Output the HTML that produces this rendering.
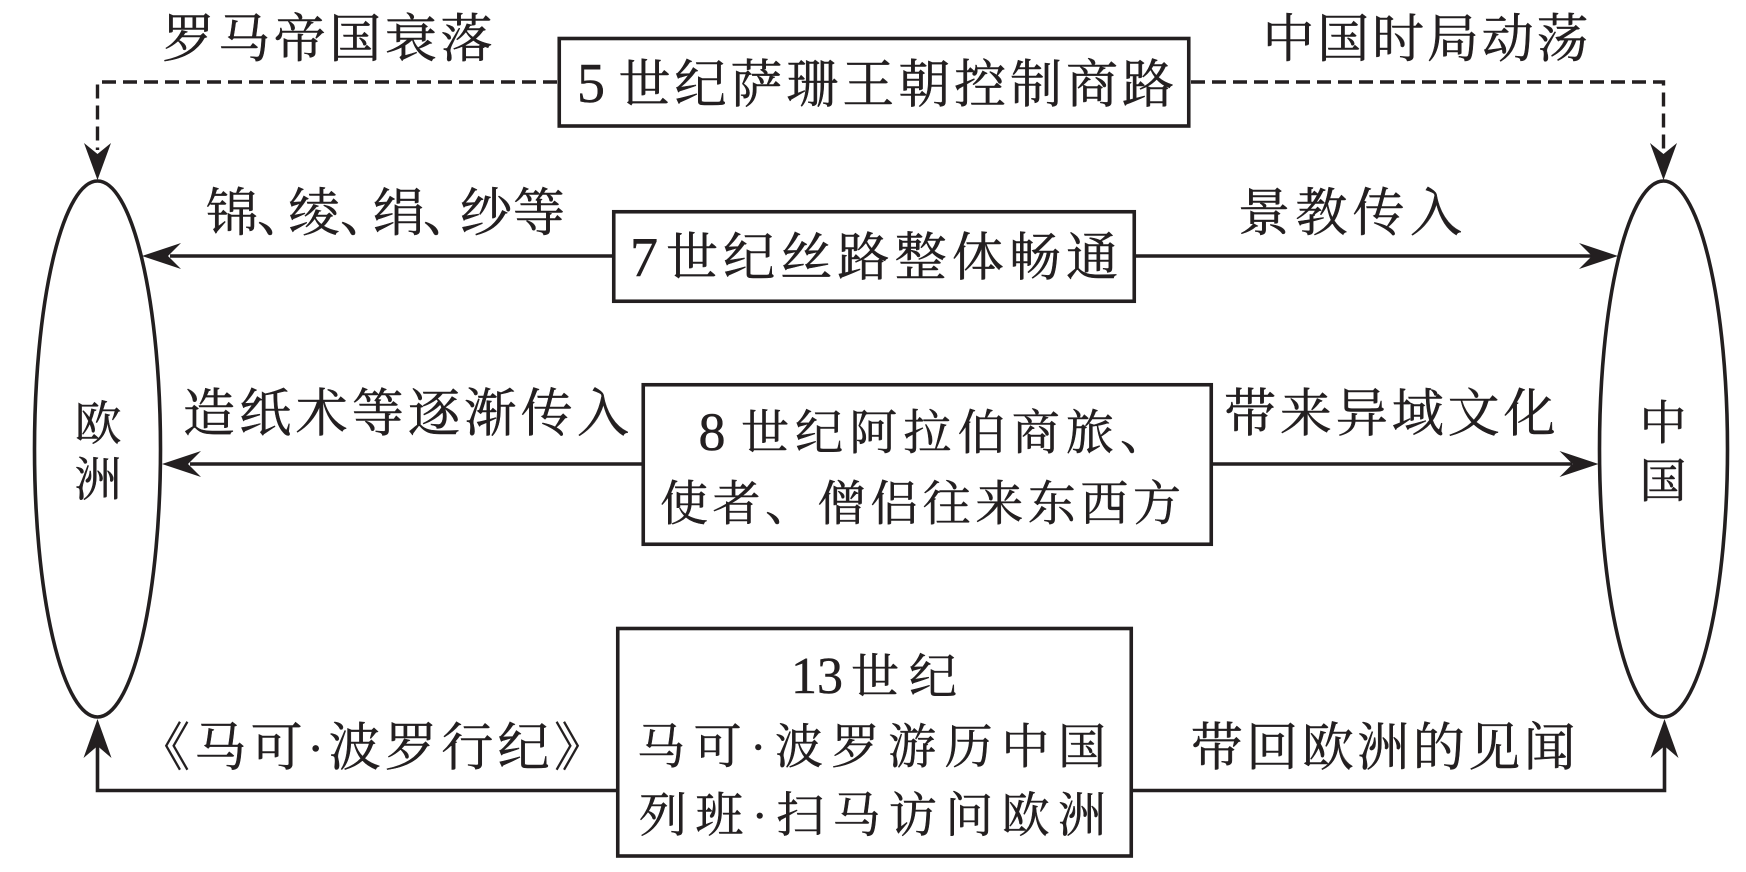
<!DOCTYPE html>
<html>
<head>
<meta charset="utf-8">
<style>
  html, body { margin: 0; padding: 0; background: #fff; }
  body { width: 1746px; height: 872px; overflow: hidden; }
  svg { display: block; }
  text { font-family: "Liberation Serif", "Noto Serif CJK SC", serif; fill: #231f20; stroke: #231f20; stroke-width: 0.5; }
</style>
</head>
<body>
<svg width="1746" height="872" viewBox="0 0 1746 872" xmlns="http://www.w3.org/2000/svg">
  <rect x="0" y="0" width="1746" height="872" fill="#fff"/>

  <!-- Ellipses -->
  <ellipse cx="97.5" cy="449" rx="63" ry="268" fill="none" stroke="#231f20" stroke-width="3.6"/>
  <ellipse cx="1663.5" cy="449" rx="64" ry="268" fill="none" stroke="#231f20" stroke-width="3.6"/>

  <!-- Dashed connectors -->
  <g fill="none" stroke="#231f20" stroke-width="3.4" stroke-dasharray="14 7">
    <path d="M557 82 H97.5 V150"/>
    <path d="M1191 82 H1663.5 V150"/>
  </g>
  <!-- Dashed arrowheads (down) -->
  <g fill="#231f20">
    <path d="M97.5 180 L84 143 L97.5 154 L111 143 Z"/>
    <path d="M1663.5 180 L1650 143 L1663.5 154 L1677 143 Z"/>
  </g>

  <!-- Solid connectors -->
  <g fill="none" stroke="#231f20" stroke-width="3.6">
    <path d="M612 256 H170"/>
    <path d="M1136 256 H1592"/>
    <path d="M641.5 464 H190"/>
    <path d="M1213 464 H1572"/>
    <path d="M616 790.5 H97.5 V745"/>
    <path d="M1133 790.5 H1664.5 V745"/>
  </g>
  <!-- Solid arrowheads -->
  <g fill="#231f20">
    <path d="M142 256 L181 243 L168 256 L181 269 Z"/>
    <path d="M1618 256 L1579 243 L1592 256 L1579 269 Z"/>
    <path d="M162 464 L201 451 L188 464 L201 477 Z"/>
    <path d="M1598.5 464 L1559.5 451 L1572.5 464 L1559.5 477 Z"/>
    <path d="M97.5 719 L83.5 758 L97.5 746 L111.5 758 Z"/>
    <path d="M1664.5 719 L1650.5 758 L1664.5 746 L1678.5 758 Z"/>
  </g>

  <!-- Boxes -->
  <g fill="#fff" stroke="#231f20" stroke-width="3.6">
    <rect x="559.25" y="38.5" width="629.5" height="87.5"/>
    <rect x="613.75" y="211.75" width="520.5" height="89.5"/>
    <rect x="643.25" y="384.75" width="568" height="159.5"/>
    <rect x="617.75" y="628.5" width="513.5" height="227.5"/>
  </g>

  <!-- Top labels -->
  <text x="162.5" y="57" font-size="52" textLength="330" lengthAdjust="spacing">罗马帝国衰落</text>
  <text x="1262.5" y="57" font-size="52" textLength="326" lengthAdjust="spacing">中国时局动荡</text>

  <!-- Box 5 -->
  <text x="577" y="102" font-size="56">5</text>
  <text x="618.5" y="102.7" font-size="52" textLength="555.5" lengthAdjust="spacing">世纪萨珊王朝控制商路</text>

  <!-- Row 7 labels -->
  <text x="206 257 288 340 373 423 460 513" y="231" font-size="52">锦、绫、绢、纱等</text>
  <text x="1238" y="231" font-size="52" textLength="224" lengthAdjust="spacing">景教传入</text>

  <!-- Box 7 -->
  <text x="630" y="276" font-size="56">7</text>
  <text x="666" y="275.7" font-size="52" textLength="452" lengthAdjust="spacing">世纪丝路整体畅通</text>

  <!-- Row 8 labels -->
  <text x="183" y="431.5" font-size="52" textLength="446" lengthAdjust="spacing">造纸术等逐渐传入</text>
  <text x="1224" y="431.5" font-size="52" textLength="331.6" lengthAdjust="spacing">带来异域文化</text>

  <!-- Box 8 -->
  <text x="698.5" y="450" font-size="54">8</text>
  <text x="741" y="449" font-size="48" textLength="427" lengthAdjust="spacing">世纪阿拉伯商旅、</text>
  <text x="660" y="520" font-size="48" textLength="521" lengthAdjust="spacing">使者、僧侣往来东西方</text>

  <!-- Ellipse labels -->
  <text x="98" y="440" font-size="47" text-anchor="middle">欧</text>
  <text x="98" y="496" font-size="47" text-anchor="middle">洲</text>
  <text x="1663" y="439.5" font-size="47" text-anchor="middle">中</text>
  <text x="1663" y="497.5" font-size="47" text-anchor="middle">国</text>

  <!-- Box 13 -->
  <text x="791" y="693" font-size="52">13</text>
  <text x="851" y="693" font-size="48" textLength="106" lengthAdjust="spacing">世纪</text>
  <text x="637" y="762.8" font-size="48" textLength="469" lengthAdjust="spacing">马可·波罗游历中国</text>
  <text x="639" y="831.3" font-size="48" textLength="467" lengthAdjust="spacing">列班·扫马访问欧洲</text>

  <!-- Row 13 labels -->
  <text x="138" y="765.5" font-size="52" textLength="468" lengthAdjust="spacing">《马可·波罗行纪》</text>
  <text x="1190.7" y="765.5" font-size="52" textLength="385" lengthAdjust="spacing">带回欧洲的见闻</text>
</svg>
</body>
</html>
